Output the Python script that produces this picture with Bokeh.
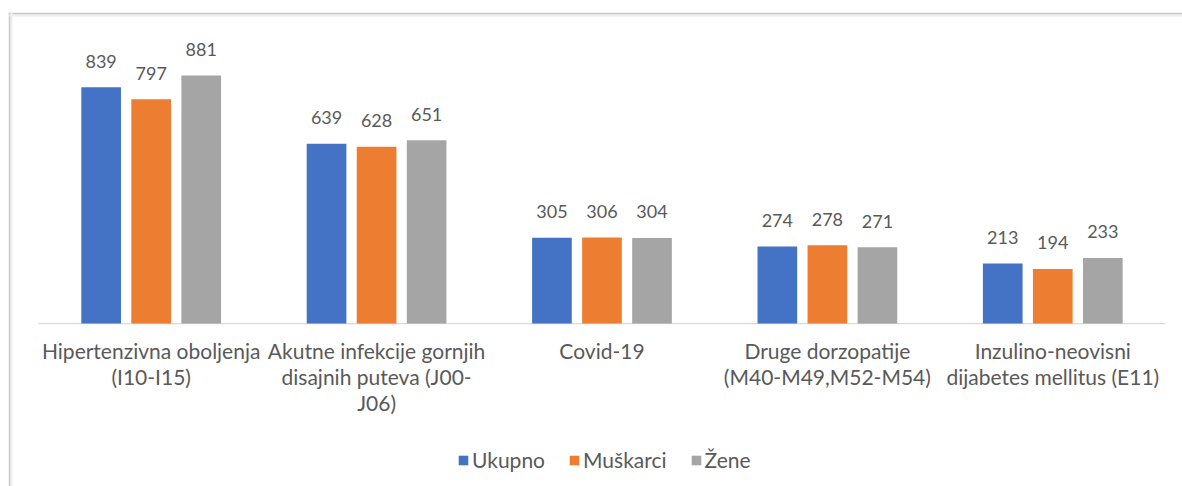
from bokeh.plotting import figure
from bokeh.models import ColumnDataSource, Legend, LegendItem, Range1d, Span
from bokeh.core.properties import value
from bokeh.embed import file_html
from bokeh.resources import INLINE

categories = ["Hipertenzivna oboljenja\n(I10-I15)",
              "Akutne infekcije gornjih\ndisajnih puteva (J00-\nJ06)",
              "Covid-19",
              "Druge dorzopatije\n(M40-M49,M52-M54)",
              "Inzulino-neovisni\ndijabetes mellitus (E11)"]
series_names = ["Ukupno", "Muškarci", "Žene"]
ukupno = [839, 639, 305, 274, 213]
muskarci = [797, 628, 306, 278, 194]
zene = [881, 651, 304, 271, 233]

colors = ["#4472C4", "#ED7D31", "#A5A5A5"]
FONT = "Lato"
TXT = "#595959"

n = len(categories)
pos = list(range(n))
series = [ukupno, muskarci, zene]
offsets = [-0.222, 0.0, 0.222]

X0, X1 = -0.633, 4.5755
Y0, Y1 = -579, 1105
PX_X = 225.4     # pixels per category unit
PX_Y = 0.2815    # pixels per value unit

p = figure(x_range=Range1d(X0, X1), y_range=Range1d(Y0, Y1),
           width=1182, height=486, output_backend="svg", toolbar_location=None,
           min_border_left=8, min_border_right=0, min_border_top=12, min_border_bottom=0)
p.outline_line_color = None
p.xaxis.visible = False
p.yaxis.visible = False
p.xgrid.grid_line_color = None
p.ygrid.grid_line_color = None

# chart box edges (left and top), with a soft shadow
for d, col, w in [(1.0, "#C9C9C9", 2), (3.0, "#EDEDED", 2)]:
    p.add_layout(Span(location=X0 + d / PX_X, dimension="height", line_color=col, line_width=w))
    p.add_layout(Span(location=Y1 - d / PX_Y, dimension="width", line_color=col, line_width=w))

# category baseline
p.segment(x0=[-0.5], x1=[n - 0.5], y0=[0], y1=[0], line_color="#D9D9D9", line_width=1.3)

renderers = []
for vals, off, c in zip(series, offsets, colors):
    src = ColumnDataSource(dict(x=[i + off for i in pos], top=vals, lab=[str(v) for v in vals]))
    r = p.vbar(x="x", top="top", width=0.176, source=src, color=c, line_color=None)
    renderers.append(r)
    p.text(x="x", y="top", text="lab", source=src, text_align="center",
           text_baseline="alphabetic", y_offset=-26,
           text_font=value(FONT), text_font_size="18px", text_color=TXT)

# category labels
csrc = ColumnDataSource(dict(x=pos, y=[0] * n, lab=categories))
p.text(x="x", y="y", text="lab", source=csrc, text_align="center", text_baseline="top",
       y_offset=14, text_line_height=1.04,
       text_font=value(FONT), text_font_size="21px", text_color=TXT)

legend = Legend(items=[LegendItem(label=s, renderers=[r]) for s, r in zip(series_names, renderers)],
                orientation="horizontal", location=(449, 14),
                label_text_font=FONT, label_text_font_size="21px", label_text_color=TXT,
                glyph_width=12, glyph_height=12, label_standoff=3, spacing=23,
                padding=0, margin=0, border_line_color=None, background_fill_alpha=0)
p.add_layout(legend, "center")

open("out.html", "w").write(file_html(p, INLINE))
